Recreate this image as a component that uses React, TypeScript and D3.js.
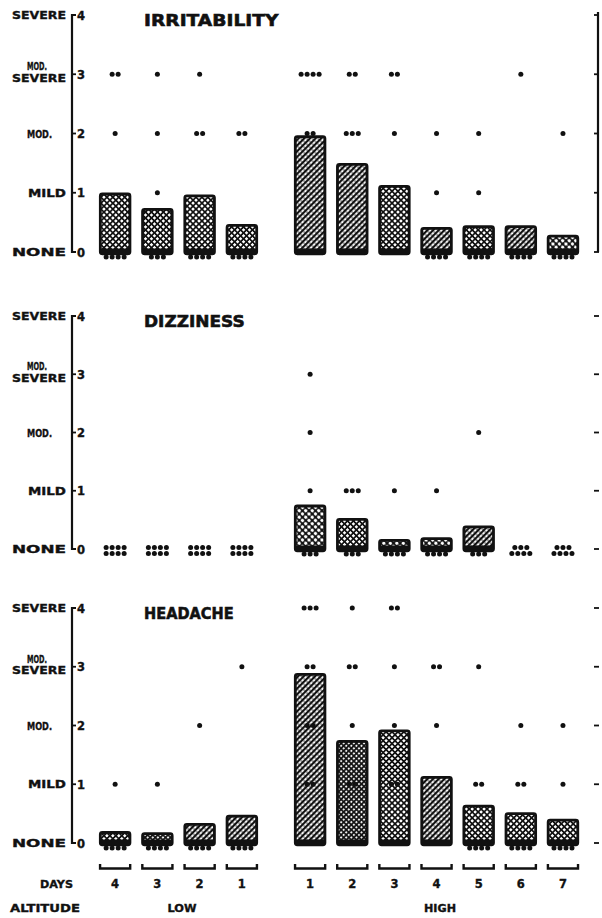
import * as React from "react";
import * as d3 from "d3";

// days at each altitude (low counts down to ascent, high counts up)
const lowDays = ["4", "3", "2", "1"];
const highDays = ["1", "2", "3", "4", "5", "6", "7"];
const levelNums = ["0", "1", "2", "3", "4"];

// mean symptom score per day: 4 low days then 7 high days
const irritabilityMeans = [1.0, 0.74, 0.97, 0.47, 1.97, 1.5, 1.13, 0.42, 0.45, 0.45, 0.29];
const dizzinessMeans = [0, 0, 0, 0, 0.76, 0.53, 0.17, 0.2, 0.4, 0, 0];
const headacheMeans = [0.2, 0.18, 0.34, 0.48, 2.89, 1.75, 1.93, 1.14, 0.65, 0.52, 0.41];

// subjects at each level [none, mild, mod, mod-severe, severe] per day
const irritabilityDots = [
  [4, 0, 1, 2, 0], [3, 1, 1, 1, 0], [4, 0, 2, 1, 0], [4, 0, 2, 0, 0],
  [0, 0, 2, 4, 0], [0, 0, 3, 2, 0], [0, 0, 1, 2, 0], [4, 1, 1, 0, 0],
  [4, 1, 1, 0, 0], [4, 0, 0, 1, 0], [4, 0, 1, 0, 0],
];
const dizzinessDots = [
  [8, 0, 0, 0, 0], [8, 0, 0, 0, 0], [8, 0, 0, 0, 0], [8, 0, 0, 0, 0],
  [3, 1, 1, 1, 0], [3, 3, 0, 0, 0], [4, 1, 0, 0, 0], [4, 1, 0, 0, 0],
  [3, 0, 1, 0, 0], [7, 0, 0, 0, 0], [7, 0, 0, 0, 0],
];
const headacheDots = [
  [4, 1, 0, 0, 0], [4, 1, 0, 0, 0], [4, 0, 1, 0, 0], [4, 0, 0, 1, 0],
  [0, 2, 2, 2, 3], [0, 2, 1, 2, 1], [0, 2, 1, 1, 2], [0, 0, 1, 2, 0],
  [4, 2, 0, 1, 0], [4, 2, 1, 0, 0], [4, 1, 1, 0, 0],
];

const FONT = "'DejaVu Sans', sans-serif";
const INK = "#111";

const xLow = d3.scaleBand().domain(lowDays).range([94, 263]).paddingInner(0.24).paddingOuter(0.12);
const xHigh = d3.scaleBand().domain(highDays).range([289, 584]).paddingInner(0.24).paddingOuter(0.12);

const dayLeft = (i) => (i < 4 ? xLow(lowDays[i]) : xHigh(highDays[i - 4]));
const bw = xLow.bandwidth();

const panels = [
  { title: "IRRITABILITY", means: irritabilityMeans, dots: irritabilityDots, y0: 252, y4: 15, fills: ["cross", "cross", "cross", "cross", "diag", "diag", "cross", "diag", "cross", "diag", "dots"], rightLine: true },
  { title: "DIZZINESS", means: dizzinessMeans, dots: dizzinessDots, y0: 549, y4: 316, fills: ["dots", "dots", "dots", "dots", "dots", "cross", "dots", "dots", "diag", "dots", "dots"], rightLine: false },
  { title: "HEADACHE", means: headacheMeans, dots: headacheDots, y0: 843, y4: 608, fills: ["cross", "dark", "diag", "diag", "diag", "dark", "cross", "diag", "cross", "cross", "cross"], rightLine: false },
];

// label style: bold, a little heavier than the font to match the print
const lab = { fontWeight: "bold", fontFamily: FONT, fill: INK, stroke: INK, strokeWidth: 0.35, lengthAdjust: "spacingAndGlyphs" };

function Patterns() {
  return (
    <defs>
      <pattern id="diag" width="4" height="4" patternUnits="userSpaceOnUse" patternTransform="rotate(45)">
        <rect width="4" height="4" fill="#fff" />
        <rect width="2.1" height="4" fill={INK} />
        <circle cx="3.1" cy="1" r="0.7" fill={INK} />
      </pattern>
      <pattern id="cross" width="4.2" height="4.2" patternUnits="userSpaceOnUse" patternTransform="rotate(45)">
        <rect width="4.2" height="4.2" fill="#fff" />
        <rect width="1.7" height="4.2" fill={INK} />
        <rect width="4.2" height="1.7" fill={INK} />
      </pattern>
      <pattern id="dots" width="4.6" height="4.6" patternUnits="userSpaceOnUse" patternTransform="rotate(45)">
        <rect width="4.6" height="4.6" fill={INK} />
        <circle cx="2.3" cy="2.3" r="1.7" fill="#fff" />
      </pattern>
      <pattern id="dark" width="3.6" height="3.6" patternUnits="userSpaceOnUse" patternTransform="rotate(45)">
        <rect width="3.6" height="3.6" fill={INK} />
        <circle cx="1.8" cy="1.8" r="1.05" fill="#fff" />
      </pattern>
    </defs>
  );
}

function Panel({ p }) {
  const y = d3.scaleLinear().domain([0, 4]).range([p.y0, p.y4]);
  const ax = 72;
  const dotGap = 6;

  const dotRow = (cx, cy, n, key) =>
    d3.range(n).map(k => (
      <circle key={key + k} cx={cx + (k - (n - 1) / 2) * dotGap} cy={cy} r={2.5} fill={INK} />
    ));

  return (
    <g>
      {/* left scale */}
      <path d={`M${ax + 4},${y(4)}H${ax}V${y(0)}H${ax + 4}`} fill="none" stroke={INK} strokeWidth={2.2} />
      {[1, 2, 3].map(v => (
        <line key={v} x1={ax - 1} x2={ax + 4} y1={y(v)} y2={y(v)} stroke={INK} strokeWidth={1.8} />
      ))}
      {levelNums.map((t, v) => (
        <text key={t} x={ax + 5} y={y(v) + 4.5} fontSize={11.5} {...lab} lengthAdjust={undefined}>{t}</text>
      ))}
      <text x={66} y={y(4) + 4} textAnchor="end" textLength={54} fontSize={10.5} {...lab}>SEVERE</text>
      <text x={27} y={y(3) - 4} textLength={20} fontSize={10} {...lab}>MOD.</text>
      <text x={66} y={y(3) + 7.5} textAnchor="end" textLength={54} fontSize={10.5} {...lab}>SEVERE</text>
      <text x={27} y={y(2) + 4} textLength={25} fontSize={10.5} {...lab}>MOD.</text>
      <text x={66} y={y(1) + 4} textAnchor="end" textLength={38} fontSize={10.5} {...lab}>MILD</text>
      <text x={66} y={y(0) + 4} textAnchor="end" textLength={54} fontSize={10.5} {...lab}>NONE</text>

      {/* title */}
      <text x={144} y={y(4) + 10.5} textLength={p.title.length * 11.2} fontSize={16.5} {...lab} strokeWidth={0.6}>{p.title}</text>

      {/* right scale */}
      {p.rightLine && <line x1={598} x2={598} y1={y(4) - 3} y2={y(0)} stroke={INK} strokeWidth={2.2} />}
      {levelNums.map((t, v) => (
        <line key={"r" + t} x1={594} x2={599} y1={y(v)} y2={y(v)} stroke={INK} strokeWidth={1.8} />
      ))}

      {/* bars */}
      {p.means.map((m, i) => {
        if (m <= 0) return null;
        const x0 = dayLeft(i);
        const top = y(m);
        return (
          <g key={"b" + i}>
            <rect x={x0 + 1.25} y={top + 1.25} width={bw - 2.5} height={p.y0 - top + 0.5}
              rx={2} fill={`url(#${p.fills[i]})`} stroke={INK} strokeWidth={2.8} />
            <rect x={x0 + 1.25} y={p.y0 - 3.5} width={bw - 2.5} height={4.5} fill={INK} />
          </g>
        );
      })}

      {/* individual subjects */}
      {p.dots.map((counts, i) => {
        const cx = dayLeft(i) + bw / 2;
        const hasBar = p.means[i] > 0;
        const n0 = counts[0];
        const bottom = Math.min(n0, 4);
        const upper = n0 - bottom;
        return (
          <g key={"d" + i}>
            {dotRow(cx, p.y0 + (hasBar ? 5 : 4.5), bottom, "z")}
            {dotRow(cx, p.y0 - 1.5, upper, "u")}
            {counts.slice(1).map((n, l) => (
              <g key={"l" + l}>{dotRow(cx, y(l + 1), n, "l" + l + "_")}</g>
            ))}
          </g>
        );
      })}
    </g>
  );
}

export default function App() {
  const allDays = [...lowDays, ...highDays];
  return (
    <svg width={602} height={918} style={{ position: "absolute", left: 0, top: 0, background: "#fff" }}>
      <Patterns />
      {panels.map(p => <Panel key={p.title} p={p} />)}

      {/* day brackets and labels */}
      {allDays.map((d, i) => {
        const x0 = dayLeft(i);
        return (
          <g key={"day" + i}>
            <path d={`M${x0 + 1},864V868.5H${x0 + bw - 1}V864`} fill="none" stroke={INK} strokeWidth={2.4} />
            <text x={x0 + bw / 2} y={888} textAnchor="middle" fontSize={11.5} {...lab} lengthAdjust={undefined}>{d}</text>
          </g>
        );
      })}
      <text x={73} y={888} textAnchor="end" textLength={33} fontSize={10.5} {...lab}>DAYS</text>
      <text x={10} y={912} textLength={70} fontSize={10.5} {...lab}>ALTITUDE</text>
      <text x={182} y={912} textAnchor="middle" textLength={29} fontSize={10.5} {...lab}>LOW</text>
      <text x={440} y={912} textAnchor="middle" textLength={32} fontSize={10.5} {...lab}>HIGH</text>
    </svg>
  );
}
